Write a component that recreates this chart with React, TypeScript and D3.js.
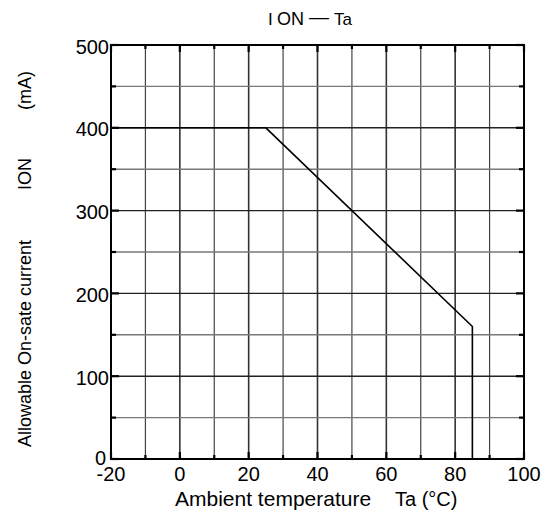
import React from "react";
import * as d3 from "d3";

const tempPoints: number[] = [-20, 25, 85, 85];
const currentPoints: number[] = [400, 400, 160, 0];
const xTicks: number[] = [-20, 0, 20, 40, 60, 80, 100];
const yTicks: number[] = [100, 200, 300, 400, 500];
const xGrid: number[] = d3.range(-20, 101, 10);
const yGrid: number[] = d3.range(0, 501, 50);

const W = 557, H = 517;
const L = 111, R = 524, T = 45, B = 459;
const font = "'Liberation Sans', Arial, sans-serif";

export default function App() {
  const x = d3.scaleLinear().domain([-20, 100]).range([L, R]);
  const y = d3.scaleLinear().domain([0, 500]).range([B, T]);
  const data = tempPoints.map((t, i) => [t, currentPoints[i]] as [number, number]);
  const line = d3.line<[number, number]>().x(d => x(d[0])).y(d => y(d[1]));

  return (
    <svg width={W} height={H} style={{ position: "absolute", left: 0, top: 0, background: "#fff" }}>
      <rect width={W} height={H} fill="#fff" />
      {xGrid.map(v => {
        const major = v % 20 === 0;
        return (
          <g key={"xv" + v}>
            <line x1={x(v)} x2={x(v)} y1={T} y2={B} stroke={major ? "#333" : "#444"} strokeWidth={major ? 1.6 : 1.2} />
            <line x1={x(v)} x2={x(v)} y1={T} y2={T + (major ? 7 : 4)} stroke="#000" strokeWidth={2.2} />
            <line x1={x(v)} x2={x(v)} y1={B} y2={B - (major ? 7 : 4)} stroke="#000" strokeWidth={2.2} />
          </g>
        );
      })}
      {yGrid.map(v => {
        const major = v % 100 === 0;
        return (
          <g key={"yh" + v}>
            <line x1={L} x2={R} y1={y(v)} y2={y(v)} stroke={major ? "#222" : "#777"} strokeWidth={1.4} />
            <line x1={L} x2={L + (major ? 8 : 5)} y1={y(v)} y2={y(v)} stroke="#000" strokeWidth={2.2} />
            <line x1={R} x2={R - (major ? 8 : 5)} y1={y(v)} y2={y(v)} stroke="#000" strokeWidth={2.2} />
          </g>
        );
      })}
      <rect x={L} y={T} width={R - L} height={B - T} fill="none" stroke="#000" strokeWidth={2} />
      <path d={line(data) || ""} fill="none" stroke="#000" strokeWidth={1.6} />

      {yTicks.map(v => (
        <text key={"yl" + v} x={L - 2} y={y(v) + 8.5} textAnchor="end" fontFamily={font} fontSize={20} fill="#000">{v}</text>
      ))}
      <text x={L - 5} y={465} textAnchor="end" fontFamily={font} fontSize={20} fill="#000">0</text>
      {xTicks.map(v => (
        <text key={"xl" + v} x={x(v)} y={B + 22} textAnchor="middle" fontFamily={font} fontSize={20} fill="#000">{v}</text>
      ))}

      <text x={175} y={506} textAnchor="start" fontFamily={font} fontSize={21} fill="#000">Ambient temperature</text>
      <text x={395} y={506} textAnchor="start" fontFamily={font} fontSize={20} fill="#000">Ta (°C)</text>

      <g transform="translate(31, 0)">
        <text transform="translate(0, 447) rotate(-90)" textAnchor="start" fontFamily={font} fontSize={18} fill="#000">Allowable On-sate current</text>
        <text transform="translate(0, 190) rotate(-90)" textAnchor="start" fontFamily={font} fontSize={18} fill="#000">ION</text>
        <text transform="translate(0, 110) rotate(-90)" textAnchor="start" fontFamily={font} fontSize={18} fill="#000">(mA)</text>
      </g>

      <text x={268} y={25} textAnchor="start" fontFamily={font} fontSize={17} fill="#000">I</text>
      <text x={277} y={25} textAnchor="start" fontFamily={font} fontSize={18} fill="#000">ON</text>
      <text x={309} y={24} textAnchor="start" fontFamily={font} fontSize={20} fill="#000">—</text>
      <text x={334} y={25} textAnchor="start" fontFamily={font} fontSize={17} fill="#000">Ta</text>
    </svg>
  );
}
